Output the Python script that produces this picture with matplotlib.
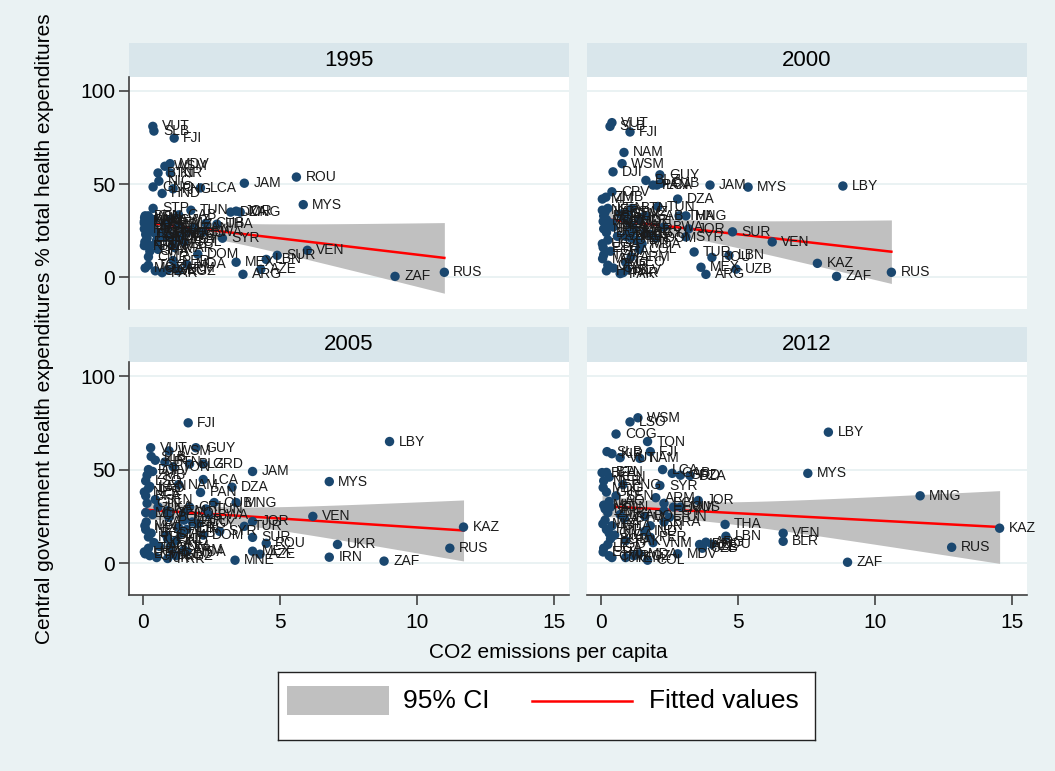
import numpy as np
import matplotlib.pyplot as plt
from matplotlib.patches import Rectangle

plt.rcParams['font.family'] = ['Liberation Sans', 'DejaVu Sans']

years = ['1995', '2000', '2005', '2012']

codes_1995 = ['VUT', 'SLB', 'FJI', 'MDV', 'WSM', 'KIR', 'BTN', 'NIC', 'GNQ', 'PNG',
              'HND', 'LCA', 'JAM', 'ROU', 'MYS', 'STP', 'TUN', 'DZA', 'JOR', 'MNG',
              'THA', 'SYR', 'VEN', 'SUR', 'LBN', 'MEX', 'AZE', 'ARG', 'DOM', 'ZAF',
              'RUS', 'TGO', 'SLV', 'PAR', 'LAO', 'KEN', 'IND', 'GTM', 'BOL', 'EGY',
              'ECU', 'PAN', 'BLZ', 'CRI', 'ALB', 'MAR', 'PHL', 'IDN', 'NGA', 'NPL',
              'BGD', 'PAK', 'KHM', 'CMR', 'GHA', 'SEN', 'MLI', 'BFA', 'MWI', 'TZA',
              'UGA', 'ETH', 'MOZ', 'LKA', 'ZWE', 'CIV', 'GIN', 'HTI', 'VNM', 'COL',
              'PER', 'ARM', 'GEO', 'KGZ', 'MDA', 'BEN', 'YEM', 'CUB', 'BWA', 'SWZ',
              'GAB']
co2_1995 = [0.36, 0.40, 1.14, 0.99, 0.80, 1.00, 0.55, 0.58, 0.37, 1.10,
            0.70, 2.10, 3.70, 5.60, 5.85, 0.37, 1.75, 3.20, 3.40, 3.55,
            2.70, 2.90, 6.00, 4.90, 4.50, 3.40, 4.30, 3.65, 2.00, 9.20,
            11.00, 0.20, 0.45, 0.70, 0.10, 0.30, 0.90, 0.60, 0.80, 1.40,
            1.60, 1.85, 1.30, 1.45, 1.10, 1.15, 0.85, 1.05, 0.30, 0.05,
            0.15, 0.55, 0.05, 0.20, 0.25, 0.40, 0.05, 0.08, 0.06, 0.10,
            0.05, 0.07, 0.08, 0.40, 1.20, 0.45, 0.20, 0.15, 0.50, 1.50,
            1.10, 1.20, 0.90, 1.30, 1.60, 0.25, 0.80, 2.30, 2.20, 1.00,
            1.30]
gov_1995 = [81, 78.5, 74.7, 61, 59.6, 56, 56, 51.6, 48.5, 47.5,
            45, 48, 50.5, 53.8, 39, 37, 36, 35, 35.5, 35,
            28.5, 21, 14.5, 11.8, 9.6, 8.1, 4.3, 1.6, 12.4, 0.5,
            2.7, 6.5, 3.5, 2.5, 31, 28.5, 26, 23, 21.5, 20.5,
            24, 26.5, 28, 23.5, 18, 16, 24, 22, 27, 17,
            21, 15, 30, 11, 14, 24, 26, 33, 32, 23,
            29, 19, 5, 31, 22, 18, 33, 25, 20, 19,
            9, 5, 4, 3.5, 7, 17, 29, 29, 24.5, 31,
            33.5]

codes_2000 = ['VUT', 'SLB', 'FJI', 'NAM', 'WSM', 'DJI', 'GUY', 'BLZ', 'PAN', 'LCA',
              'CUB', 'JAM', 'MYS', 'LBY', 'CPV', 'ZMB', 'MLI', 'DZA', 'TUN', 'BTN',
              'THA', 'MNG', 'JOR', 'SUR', 'VEN', 'SYR', 'TUR', 'ROU', 'LBN', 'UZB',
              'MEX', 'ARG', 'KAZ', 'ZAF', 'RUS', 'PAK', 'KEN', 'NER', 'LAO', 'BFA',
              'GIN', 'SEN', 'LKA', 'MAR', 'EGY', 'ECU', 'BOL', 'PER', 'IDN', 'GTM',
              'PHL', 'IND', 'NGA', 'NPL', 'BGD', 'VNM', 'TGO', 'UGA', 'ETH', 'GHA',
              'CMR', 'CIV', 'SLV', 'PAR', 'HTI', 'TZA', 'MWI', 'MOZ', 'ZWE', 'ARM',
              'GEO', 'KGZ', 'MDA', 'COL', 'SWZ', 'BWA', 'CRI', 'ALB', 'DOM', 'GAB']
co2_2000 = [0.40, 0.33, 1.06, 0.84, 0.77, 0.44, 2.15, 1.64, 1.90, 2.04,
            2.20, 3.98, 5.37, 8.83, 0.40, 0.18, 0.05, 2.80, 2.08, 1.13,
            2.85, 3.10, 3.20, 4.80, 6.25, 3.10, 3.40, 4.05, 4.67, 4.93,
            3.65, 3.83, 7.90, 8.60, 10.60, 0.70, 0.25, 0.05, 0.15, 0.10,
            0.20, 0.40, 0.45, 1.20, 1.60, 1.80, 0.90, 1.10, 1.30, 0.70,
            0.85, 1.00, 0.30, 0.10, 0.20, 0.60, 0.25, 0.05, 0.08, 0.35,
            0.25, 0.45, 0.95, 0.80, 0.20, 0.10, 0.06, 0.08, 1.10, 1.10,
            0.90, 1.20, 1.50, 1.40, 1.00, 2.30, 1.40, 1.00, 2.00, 1.60]
gov_2000 = [83, 81, 78, 67, 61, 56.6, 55, 52, 49.5, 49.5,
            50.5, 49.5, 48.4, 49, 45.9, 43, 42, 42, 38, 37,
            33, 33, 26, 24.4, 19, 21.7, 13.6, 10.7, 11.8, 4.4,
            5.4, 1.6, 7.5, 0.5, 2.7, 2, 37, 36, 35, 33,
            31, 29, 27, 26, 24, 23, 22, 21, 20, 34,
            32, 30, 28, 26, 24, 22, 20, 18, 16, 14,
            6.5, 5, 4, 2.5, 3.5, 12, 10, 30, 28, 11,
            8, 25, 18, 15, 35, 27, 31, 24, 21, 33]

codes_2005 = ['FJI', 'VUT', 'GUY', 'WSM', 'SLB', 'KIR', 'BTN', 'GRD', 'BLZ', 'TON',
              'JAM', 'MYS', 'LBY', 'LCA', 'DZA', 'NAM', 'PAN', 'MNG', 'CUB', 'TUN',
              'VEN', 'JOR', 'TUR', 'SUR', 'ROU', 'MNE', 'MEX', 'AZE', 'UKR', 'IRN',
              'ZAF', 'RUS', 'KAZ', 'DJI', 'CPV', 'ZMB', 'LSO', 'KEN', 'LAO', 'NER',
              'BFA', 'SEN', 'GIN', 'LKA', 'MDG', 'BWA', 'ECU', 'EGY', 'MAR', 'BOL',
              'PER', 'IDN', 'ALB', 'GTM', 'PHL', 'IND', 'NGA', 'NPL', 'BGD', 'VNM',
              'TGO', 'UGA', 'ETH', 'CMR', 'TJK', 'PRK', 'HTI', 'MWI', 'TZA', 'ARM',
              'GEO', 'KGZ', 'MDA', 'COL', 'CRI', 'SYR', 'DOM', 'AGO', 'YEM', 'CIV']
co2_2005 = [1.65, 0.28, 1.93, 0.95, 0.30, 0.45, 0.80, 2.20, 1.70, 1.10,
            4.00, 6.80, 9.00, 2.20, 3.25, 1.30, 2.10, 3.40, 2.60, 2.30,
            6.20, 4.00, 3.70, 4.00, 4.50, 3.36, 4.00, 4.27, 7.10, 6.80,
            8.80, 11.20, 11.70, 0.20, 0.35, 0.15, 0.10, 0.25, 0.20, 0.05,
            0.10, 0.45, 0.15, 0.55, 0.10, 2.40, 1.80, 2.00, 1.50, 0.95,
            1.30, 1.60, 1.40, 0.85, 0.90, 1.20, 0.40, 0.10, 0.30, 1.00,
            0.20, 0.05, 0.08, 0.25, 0.50, 0.90, 0.20, 0.07, 0.12, 1.50,
            1.10, 1.20, 1.60, 1.50, 1.70, 2.80, 2.20, 0.60, 0.90, 0.35]
gov_2005 = [75, 61.7, 61.7, 60, 57, 55, 54, 53, 53, 51.5,
            49, 43.6, 65, 44.7, 40.6, 42, 37.8, 32.4, 32.4, 29,
            25, 22.3, 19.7, 13.8, 10.6, 1.6, 6.4, 4.8, 10, 3.2,
            1.1, 8, 19.3, 50, 49, 47, 44, 41, 40, 38,
            36, 34, 32, 30, 27, 26, 22, 21, 23, 24.5,
            19, 18, 16, 15, 13, 12, 11, 18, 16, 9,
            8, 6, 5, 4, 3, 2.5, 14, 20, 22, 7,
            5, 4, 6, 27, 30, 17, 15, 9, 28, 26]

codes_2012 = ['WSM', 'LSO', 'COG', 'TON', 'SLB', 'KIR', 'FJI', 'VUT', 'NAM', 'LCA',
              'GAB', 'DZA', 'GRD', 'BFA', 'BTN', 'MDG', 'SYR', 'ARM', 'JOR', 'MYS',
              'LBY', 'MNG', 'KAZ', 'RUS', 'ZAF', 'VEN', 'BLR', 'THA', 'LBN', 'ARG',
              'ROU', 'TUN', 'PER', 'COL', 'DOM', 'MUS', 'BRA', 'KEN', 'NER', 'PNG',
              'GIN', 'SEN', 'LAO', 'MLI', 'NPL', 'ZMB', 'LKA', 'BOL', 'EGY', 'ECU',
              'GTM', 'IDN', 'IND', 'NGA', 'BGD', 'VNM', 'TGO', 'UGA', 'ETH', 'CMR',
              'TJK', 'YEM', 'HTI', 'MWI', 'TZA', 'KGZ', 'MDA', 'MDV', 'AZE', 'IRQ',
              'UZB', 'PAK', 'GHA', 'CIV', 'SDN']
co2_2012 = [1.35, 1.06, 0.55, 1.70, 0.22, 0.40, 1.80, 0.70, 1.42, 2.25,
            2.60, 3.25, 2.90, 0.04, 0.20, 0.08, 2.15, 2.00, 3.55, 7.55,
            8.30, 11.65, 14.55, 12.80, 9.00, 6.65, 6.65, 4.53, 4.56, 3.83,
            4.05, 2.50, 1.80, 1.70, 2.65, 2.90, 2.30, 0.30, 0.10, 0.80,
            0.20, 0.55, 0.30, 0.10, 0.15, 0.25, 0.70, 1.60, 2.30, 2.30,
            0.85, 1.80, 1.60, 0.50, 0.35, 1.90, 0.25, 0.10, 0.08, 0.30,
            0.40, 0.90, 0.20, 0.07, 0.15, 1.20, 1.40, 2.80, 3.70, 3.60,
            3.70, 0.90, 0.40, 0.30, 0.35]
gov_2012 = [77.7, 75.5, 69, 65, 59.6, 58.5, 59.6, 56.4, 56, 50,
            48, 46.8, 47, 48.4, 48.5, 40.4, 41.5, 35, 33.5, 48,
            70, 36, 18.7, 8.5, 0.5, 16, 11.7, 20.7, 14.4, 11.2,
            10.1, 24.5, 13.8, 1.6, 30, 30, 22, 46, 44, 42,
            38, 36, 33, 31, 29, 27, 26, 25, 28, 32,
            24, 20, 17, 15, 13, 11, 10, 8, 6, 4,
            3, 3, 18, 21, 23, 4, 5, 5, 9, 10,
            8, 12, 20, 16, 30]

panel_data = {
    '1995': (codes_1995, co2_1995, gov_1995),
    '2000': (codes_2000, co2_2000, gov_2000),
    '2005': (codes_2005, co2_2005, gov_2005),
    '2012': (codes_2012, co2_2012, gov_2012),
}

W, H = 1055, 771
BG = '#eaf2f3'
STRIP = '#d9e6eb'
NAVY = '#1a476f'


def rect(x0, y0, x1, y1):
    return [x0 / W, 1 - y1 / H, (x1 - x0) / W, (y1 - y0) / H]


def fit_ci(x, y):
    # linear fit with 95% CI of the mean prediction (like Stata lfitci)
    x = np.asarray(x, float)
    y = np.asarray(y, float)
    n = len(x)
    b, a = np.polyfit(x, y, 1)
    xs = np.linspace(x.min(), x.max(), 200)
    yhat = a + b * xs
    s = np.sqrt(np.sum((y - (a + b * x)) ** 2) / (n - 2))
    sxx = np.sum((x - x.mean()) ** 2)
    se = s * np.sqrt(1 / n + (xs - x.mean()) ** 2 / sxx)
    t = 1.96 + 2.4 / (n - 2)
    return xs, yhat, yhat - t * se, yhat + t * se


fig = plt.figure(figsize=(W / 100, H / 100), dpi=100, facecolor=BG)

cols = [(129, 569), (587, 1027)]
rows = [((43, 77), (77, 309)), ((327, 362), (362, 595))]

for i, yr in enumerate(years):
    r, c = divmod(i, 2)
    x0, x1 = cols[c]
    (h0, h1), (p0, p1) = rows[r]

    hax = fig.add_axes(rect(x0, h0, x1, h1))
    hax.set_facecolor(STRIP)
    hax.set_xticks([])
    hax.set_yticks([])
    for sp in hax.spines.values():
        sp.set_visible(False)
    hax.text(0.5, 0.5, yr, ha='center', va='center', fontsize=16,
             transform=hax.transAxes)

    ax = fig.add_axes(rect(x0, p0, x1, p1))
    ax.set_facecolor('white')
    ax.set_xlim(-0.51, 15.55)
    ax.set_ylim(-17, 107.5)
    for yv in (0, 50, 100):
        ax.axhline(yv, color=BG, lw=1.4, zorder=0)

    codes, co2, gov = panel_data[yr]
    xs, yhat, lo, hi = fit_ci(co2, gov)
    ax.fill_between(xs, lo, hi, color='#c0c0c0', lw=0, zorder=1)
    ax.plot(xs, yhat, color='red', lw=1.8, zorder=2)
    ax.scatter(co2, gov, s=46, color=NAVY, edgecolors='none', zorder=3)
    for code, xv, yv in zip(codes, co2, gov):
        ax.annotate(code, (xv, yv), xytext=(6.5, 0), textcoords='offset points',
                    va='center', ha='left', fontsize=10, color='#1a1a1a',
                    zorder=4)

    for sp in ax.spines.values():
        sp.set_visible(False)
    ax.tick_params(colors='#333333', labelcolor='black', labelsize=15)
    if c == 0:
        ax.spines['left'].set_visible(True)
        ax.spines['left'].set_color('#404040')
        ax.spines['left'].set_linewidth(1.2)
        ax.set_yticks([0, 50, 100])
        ax.tick_params(axis='y', length=7, width=1.1, pad=3)
    else:
        ax.set_yticks([])
    if r == 1:
        ax.spines['bottom'].set_visible(True)
        ax.spines['bottom'].set_color('#404040')
        ax.spines['bottom'].set_linewidth(1.2)
        ax.set_xticks([0, 5, 10, 15])
        ax.tick_params(axis='x', length=7, width=1.1, pad=6)
    else:
        ax.set_xticks([])

fig.text(45 / W, 1 - 329 / H,
         'Central government health expenditures % total health expenditures',
         rotation=90, ha='center', va='center', fontsize=15)
fig.text(548 / W, 1 - 652 / H, 'CO2 emissions per capita',
         ha='center', va='center', fontsize=15)

# legend box
lax = fig.add_axes(rect(278, 672, 815, 740))
lax.set_xlim(0, 537)
lax.set_ylim(68, 0)
lax.set_facecolor('white')
lax.set_xticks([])
lax.set_yticks([])
for sp in lax.spines.values():
    sp.set_color('#222222')
    sp.set_linewidth(1.0)
lax.add_patch(Rectangle((9, 14), 102, 29, color='#c0c0c0', lw=0))
lax.text(125, 29, '95% CI', va='center', ha='left', fontsize=19)
lax.plot([254, 354], [29, 29], color='red', lw=1.8)
lax.text(371, 29, 'Fitted values', va='center', ha='left', fontsize=19)

fig.savefig('out.png', dpi=100, facecolor=BG)
